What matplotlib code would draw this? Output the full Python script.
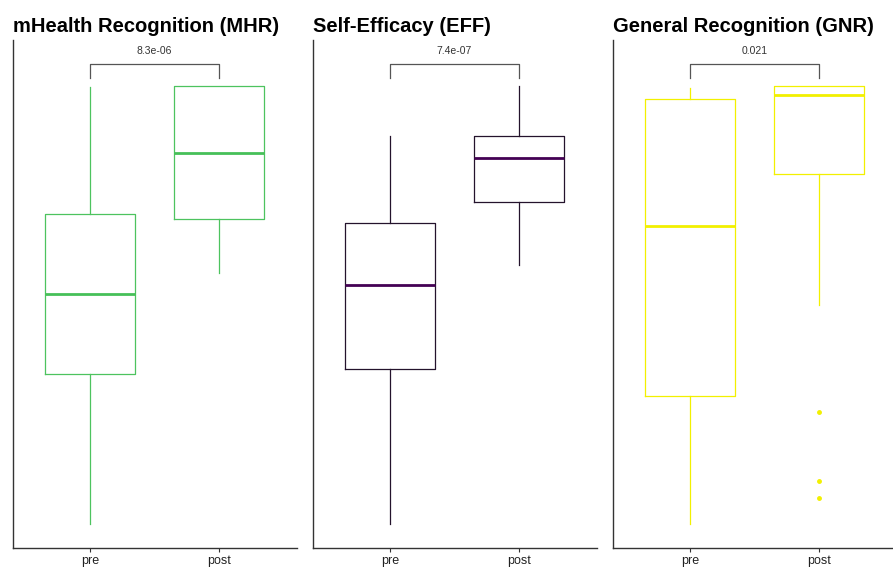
import numpy as np
import matplotlib.pyplot as plt

plt.rcParams['font.family'] = ['Liberation Sans', 'DejaVu Sans']

## pre / post boxplots for three scores (0-100 scale)

groups = ['pre', 'post']
titles = ['mHealth Recognition (MHR)', 'Self-Efficacy (EFF)', 'General Recognition (GNR)']
p_labels = ['8.3e-06', '7.4e-07', '0.021']
edge_colors = ['#4DC35F', '#24132c', '#F2F000']
median_colors = ['#46C058', '#440154', '#F2F000']

# whislo, q1, med, q3, whishi
mhr_pre = [0.0, 34.2, 52.5, 70.8, 99.8]
mhr_post = [57.3, 69.6, 84.7, 100.0, 100.0]
eff_pre = [0.0, 35.4, 54.6, 68.7, 88.6]
eff_post = [59.1, 73.5, 83.6, 88.6, 100.0]
gnr_pre = [0.0, 29.2, 68.0, 97.0, 99.5]
gnr_post = [50.0, 79.9, 97.9, 100.0, 100.0]

# outliers
mhr_pre_out, mhr_post_out = [], []
eff_pre_out, eff_post_out = [], []
gnr_pre_out, gnr_post_out = [], [25.6, 9.8, 5.9]

panels = [
    (mhr_pre, mhr_post, mhr_pre_out, mhr_post_out),
    (eff_pre, eff_post, eff_pre_out, eff_post_out),
    (gnr_pre, gnr_post, gnr_pre_out, gnr_post_out),
]


def make_stats(vals, out, lab):
    return dict(label=lab, whislo=vals[0], q1=vals[1], med=vals[2],
                q3=vals[3], whishi=vals[4], fliers=out)


fig = plt.figure(figsize=(8.93, 5.67), dpi=100)
lefts = [0.0141, 0.350, 0.686]

for i in range(3):
    ax = fig.add_axes([lefts[i], 0.0335, 0.318, 0.896])
    c = edge_colors[i]
    pre, post, pre_out, post_out = panels[i]
    stats = [make_stats(pre, pre_out, groups[0]),
             make_stats(post, post_out, groups[1])]
    ax.bxp(stats, positions=[1, 2], widths=0.7, showcaps=False,
           boxprops=dict(color=c, linewidth=0.9),
           whiskerprops=dict(color=c, linewidth=0.9),
           medianprops=dict(color=median_colors[i], linewidth=2.0),
           flierprops=dict(marker='o', markerfacecolor=c, markeredgecolor=c,
                           markersize=2.5, linestyle='none'))

    # significance bracket
    ax.plot([1, 1, 2, 2], [101.8, 105, 105, 101.8], color='#555555', lw=0.9)
    ax.text(1.5, 107.9, p_labels[i], ha='center', va='center',
            fontsize=7.5, color='#333333')

    ax.set_xlim(0.4, 2.6)
    ax.set_ylim(-5.5, 110.5)
    ax.set_yticks([])
    ax.set_xticks([1, 2])
    ax.set_xticklabels(groups)
    ax.tick_params(axis='x', length=3, color='#333333', labelsize=9,
                   labelcolor='#222222', pad=2)
    for s in ['top', 'right']:
        ax.spines[s].set_visible(False)
    for s in ['left', 'bottom']:
        ax.spines[s].set_color('#333333')
        ax.spines[s].set_linewidth(1.0)

    ax.set_title(titles[i], loc='left', fontsize=14.5, fontweight='bold', pad=6)

plt.savefig('out.png', dpi=100)
